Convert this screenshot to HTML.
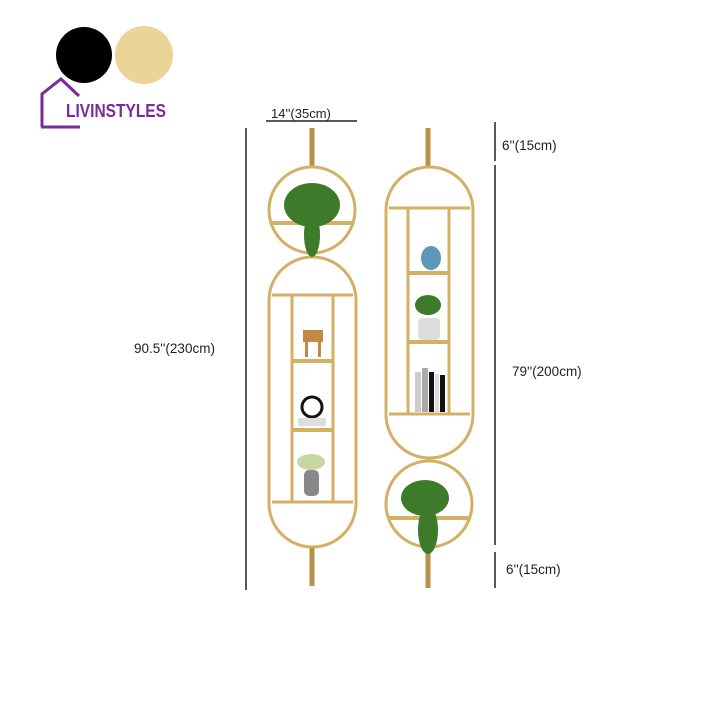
<!DOCTYPE html>
<html><head><meta charset="utf-8"><style>
html,body{margin:0;padding:0;background:#fff;}
svg{display:block;}
text{font-family:"Liberation Sans",sans-serif;fill:#222;}
</style></head><body>
<svg width="720" height="720" viewBox="0 0 720 720" xmlns="http://www.w3.org/2000/svg">
<rect width="720" height="720" fill="#fff"/>
<!-- logo -->
<circle cx="84" cy="55" r="28" fill="#000"/>
<circle cx="144" cy="55" r="29" fill="#ecd398"/>
<polyline points="42,127 42,94 61,79 79,96" fill="none" stroke="#7a2a9a" stroke-width="3"/>
<line x1="41" y1="127" x2="80" y2="127" stroke="#7a2a9a" stroke-width="3"/>
<text x="66" y="117" font-size="18" font-weight="bold" style="fill:#7a2a9a;font-family:'Liberation Sans Narrow','Liberation Sans',sans-serif" textLength="100" lengthAdjust="spacingAndGlyphs">LIVINSTYLES</text>
<!-- dimension lines -->
<g stroke="#222" stroke-width="1.5">
<line x1="246" y1="128" x2="246" y2="590"/>
<line x1="266" y1="121" x2="357" y2="121"/>
<line x1="495" y1="122" x2="495" y2="161"/>
<line x1="495" y1="165" x2="495" y2="545"/>
<line x1="495" y1="552" x2="495" y2="588"/>
</g>
<text x="271" y="118" font-size="13">14''(35cm)</text>
<text x="134" y="353" font-size="13.5">90.5''(230cm)</text>
<text x="502" y="150" font-size="13.5">6''(15cm)</text>
<text x="512" y="376" font-size="13.5">79''(200cm)</text>
<text x="506" y="574" font-size="13.5">6''(15cm)</text>
<g fill="none" stroke="#d4b064" stroke-width="3">
<!-- left unit -->
<line x1="312" y1="128" x2="312" y2="166" stroke-width="5" stroke="#b8924a"/>
<circle cx="312" cy="210" r="43"/>
<line x1="271" y1="223" x2="353" y2="223" stroke-width="4"/>
<rect x="269" y="257" width="87" height="290" rx="43.5"/>
<line x1="272" y1="295" x2="353" y2="295"/>
<line x1="272" y1="502" x2="353" y2="502"/>
<line x1="292" y1="295" x2="292" y2="502"/>
<line x1="333" y1="295" x2="333" y2="502"/>
<line x1="292" y1="361" x2="333" y2="361" stroke-width="4"/>
<line x1="292" y1="430" x2="333" y2="430" stroke-width="4"/>
<line x1="312" y1="548" x2="312" y2="586" stroke-width="5" stroke="#b8924a"/>
<!-- right unit -->
<line x1="428" y1="128" x2="428" y2="168" stroke-width="5" stroke="#b8924a"/>
<rect x="386" y="167" width="87" height="291" rx="43.5"/>
<line x1="389" y1="208" x2="470" y2="208"/>
<line x1="389" y1="414" x2="470" y2="414"/>
<line x1="408" y1="208" x2="408" y2="414"/>
<line x1="449" y1="208" x2="449" y2="414"/>
<line x1="408" y1="273" x2="449" y2="273" stroke-width="4"/>
<line x1="408" y1="342" x2="449" y2="342" stroke-width="4"/>
<circle cx="429" cy="504" r="43"/>
<line x1="388" y1="518" x2="470" y2="518" stroke-width="4"/>
<line x1="428" y1="548" x2="428" y2="588" stroke-width="5" stroke="#b8924a"/>
</g>
<!-- plants / decor -->
<g fill="#3d7a2a">
<ellipse cx="312" cy="205" rx="28" ry="22"/>
<ellipse cx="312" cy="235" rx="8" ry="22"/>
<ellipse cx="425" cy="498" rx="24" ry="18"/>
<ellipse cx="428" cy="530" rx="10" ry="24"/>
<ellipse cx="428" cy="305" rx="13" ry="10"/>
</g>
<ellipse cx="431" cy="258" rx="10" ry="12" fill="#5f97b6"/>
<rect x="418" y="318" width="22" height="22" rx="4" fill="#ddd"/>
<g fill="#c08a45"><rect x="303" y="330" width="20" height="12"/><rect x="305" y="342" width="3" height="15"/><rect x="318" y="342" width="3" height="15"/></g>
<circle cx="312" cy="407" r="10" fill="#fff" stroke="#111" stroke-width="3"/>
<rect x="298" y="418" width="28" height="8" fill="#ddd"/>
<ellipse cx="311" cy="462" rx="14" ry="8" fill="#c8d6a0"/>
<rect x="304" y="470" width="15" height="26" rx="5" fill="#888"/>
<g><rect x="415" y="372" width="6" height="40" fill="#ccc"/><rect x="422" y="368" width="6" height="44" fill="#aaa"/><rect x="429" y="372" width="5" height="40" fill="#111"/><rect x="435" y="374" width="4" height="38" fill="#ddd"/><rect x="440" y="375" width="5" height="37" fill="#111"/></g>
</svg>
</body></html>
